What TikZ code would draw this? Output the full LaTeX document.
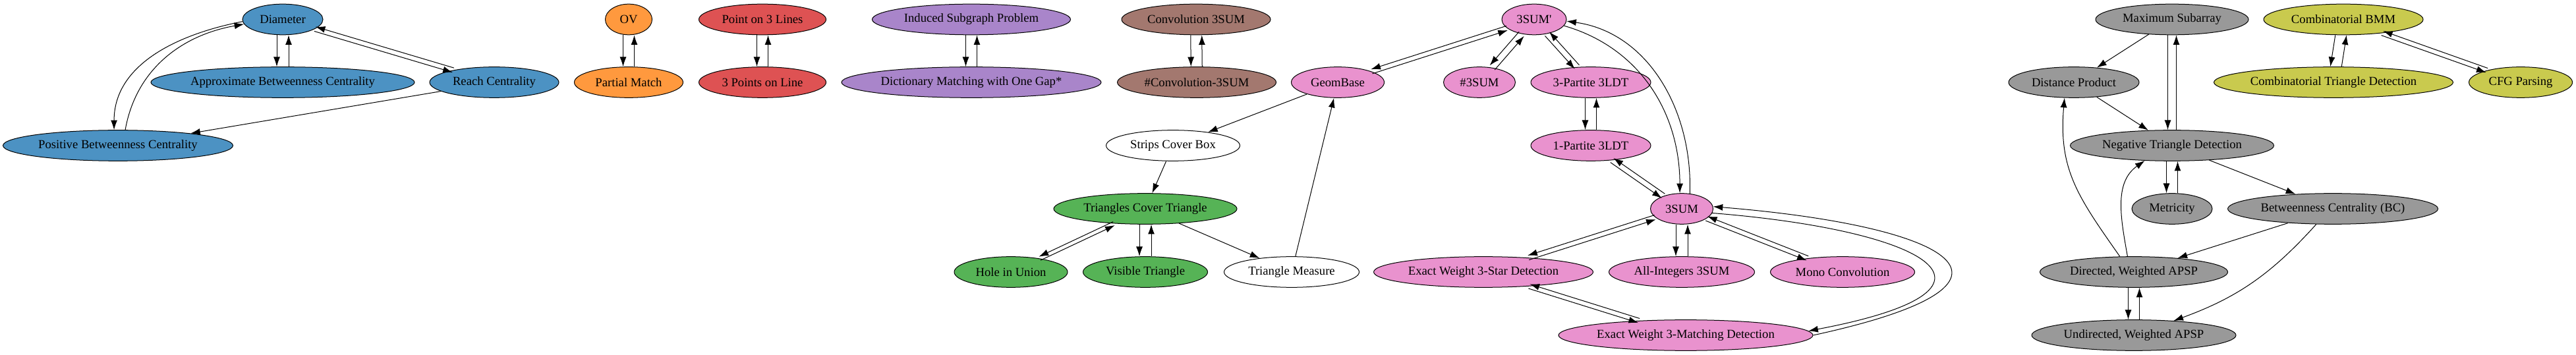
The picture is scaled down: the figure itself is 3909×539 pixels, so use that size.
\documentclass[tikz,border=0pt]{standalone}
\usepackage{fontspec}
\setmainfont{Liberation Serif}
\usetikzlibrary{shapes.geometric,arrows.meta}
\definecolor{tabblue}{RGB}{76,146,195}
\definecolor{taborange}{RGB}{255,153,62}
\definecolor{tabred}{RGB}{222,82,83}
\definecolor{tabpurple}{RGB}{169,133,202}
\definecolor{tabbrown}{RGB}{163,120,111}
\definecolor{tabpink}{RGB}{233,146,206}
\definecolor{tabgreen}{RGB}{86,179,86}
\definecolor{tabgray}{RGB}{153,153,153}
\definecolor{tabolive}{RGB}{201,202,78}
\begin{document}
\begin{tikzpicture}[
  x=0.75pt, y=0.75pt,
  every node/.style={
    draw,
    ellipse,
    inner sep=0pt,
    minimum height=35pt,
    line width=0.75pt,
    font=\fontsize{14}{16}\selectfont,
  },
  every path/.style={line width=0.75pt,>={Latex[length=11pt,width=7.5pt]}},
  twin/.style={transform canvas={shift={#1}}},
  diam fam/.style={fill=tabblue},
  ov fam/.style={fill=taborange},
  line fam/.style={fill=tabred},
  dict fam/.style={fill=tabpurple},
  conv fam/.style={fill=tabbrown},
  sum fam/.style={fill=tabpink},
  geom fam/.style={fill=tabgreen},
  open fam/.style={fill=white},
  apsp fam/.style={fill=tabgray},
  bmm fam/.style={fill=tabolive},
  ]
  \useasboundingbox (0,0) rectangle (3909,539);

  \node[diam fam, minimum width=91.5pt] (dia) at (429,509.5) {Diameter};
  \node[diam fam, minimum width=300pt] (abc) at (429,414) {Approximate Betweenness Centrality};
  \node[diam fam, minimum width=147pt] (reach) at (750,414) {Reach Centrality};
  \node[diam fam, minimum width=261.75pt] (pbc) at (179,318) {Positive Betweenness Centrality};

  \node[ov fam, minimum width=53.25pt] (ov) at (954,509.5) {OV};
  \node[ov fam, minimum width=123.75pt] (pm) at (954,414) {Partial Match};
  \node[line fam, minimum width=144.75pt] (p3l) at (1157,509.5) {Point on 3 Lines};
  \node[line fam, minimum width=144.75pt] (p3o) at (1157,414) {3 Points on Line};
  \node[dict fam, minimum width=225.75pt] (isp) at (1474,509.5) {Induced Subgraph Problem};
  \node[dict fam, minimum width=295.5pt] (dmg) at (1474,414) {Dictionary Matching with One Gap*};
  \node[conv fam, minimum width=169.5pt] (conv) at (1815,509.5) {Convolution 3SUM};
  \node[conv fam, minimum width=180.75pt] (nconv) at (1816,414) {\#Convolution-3SUM};

  \node[sum fam, minimum width=73.5pt] (tsp) at (2328,509.5) {3SUM\textquotesingle};
  \node[sum fam, minimum width=105.75pt] (geo) at (2030,414) {GeomBase};
  \node[sum fam, minimum width=81.75pt] (nsum) at (2245,414) {\#3SUM};
  \node[sum fam, minimum width=136.5pt] (tpl) at (2414,414) {3-Partite 3LDT};
  \node[sum fam, minimum width=136.5pt] (opl) at (2414,318) {1-Partite 3LDT};
  \node[sum fam, minimum width=71.25pt] (tsum) at (2552,222) {3SUM};
  \node[sum fam, minimum width=249.75pt] (star) at (2251,126) {Exact Weight 3-Star Detection};
  \node[sum fam, minimum width=165.75pt] (aint) at (2552,126) {All-Integers 3SUM};
  \node[sum fam, minimum width=164.25pt] (mono) at (2796,126) {Mono Convolution};
  \node[sum fam, minimum width=289.5pt] (match) at (2558,30) {Exact Weight 3-Matching Detection};

  \node[open fam, minimum width=152.25pt] (scb) at (1780,318) {Strips Cover Box};
  \node[open fam, minimum width=153.75pt] (tme) at (1960,126) {Triangle Measure};
  \node[geom fam, minimum width=208.5pt] (tct) at (1738,222) {Triangles Cover Triangle};
  \node[geom fam, minimum width=129pt] (hiu) at (1534,126) {Hole in Union};
  \node[geom fam, minimum width=141.75pt] (vis) at (1738,126) {Visible Triangle};

  \node[apsp fam, minimum width=174pt] (msa) at (3296,509.5) {Maximum Subarray};
  \node[apsp fam, minimum width=148.5pt] (dp) at (3147,414) {Distance Product};
  \node[apsp fam, minimum width=231.75pt] (ntd) at (3296,318) {Negative Triangle Detection};
  \node[apsp fam, minimum width=91.5pt] (met) at (3296,222) {Metricity};
  \node[apsp fam, minimum width=239.25pt] (bc) at (3540,222) {Betweenness Centrality (BC)};
  \node[apsp fam, minimum width=213.75pt] (dir) at (3238,126) {Directed, Weighted APSP};
  \node[apsp fam, minimum width=232.5pt] (und) at (3238,30) {Undirected, Weighted APSP};

  \node[bmm fam, minimum width=181.5pt] (bmm) at (3556,509.5) {Combinatorial BMM};
  \node[bmm fam, minimum width=272.25pt] (ctd) at (3541,414) {Combinatorial Triangle Detection};
  \node[bmm fam, minimum width=117.75pt] (cfg) at (3825,414) {CFG Parsing};

  \draw[->, twin={(-9,0)}] (dia) -- (abc);
  \draw[->, twin={(9,0)}] (abc) -- (dia);
  \draw[->, twin={(-1,-3.4)}] (dia) -- (reach);
  \draw[->, twin={(1,3.4)}] (reach) -- (dia);
  \draw[->] (dia.183) to[out=191, in=90] (pbc.104);
  \draw[->] (pbc.65) to[out=80, in=190] (dia.187);
  \draw[->] (reach) -- (pbc);

  \draw[->, twin={(-8.5,0)}] (ov) -- (pm);
  \draw[->, twin={(8.5,0)}] (pm) -- (ov);
  \draw[->, twin={(-8.5,0)}] (p3l) -- (p3o);
  \draw[->, twin={(8.5,0)}] (p3o) -- (p3l);
  \draw[->, twin={(-8.5,0)}] (isp) -- (dmg);
  \draw[->, twin={(8.5,0)}] (dmg) -- (isp);
  \draw[->, twin={(-8.5,0)}] (conv) -- (nconv);
  \draw[->, twin={(8.5,0)}] (nconv) -- (conv);

  \draw[->, twin={(-1.1,3.3)}] (tsp) -- (geo);
  \draw[->, twin={(1.1,-3.3)}] (geo) -- (tsp);
  \draw[->, twin={(-3.8,3.3)}] (tsp) -- (nsum);
  \draw[->, twin={(3.8,-3.3)}] (nsum) -- (tsp);
  \draw[->, twin={(-3.3,-3)}] (tsp) -- (tpl);
  \draw[->, twin={(3.3,3)}] (tpl) -- (tsp);
  \draw[->, twin={(-8.5,0)}] (tpl) -- (opl);
  \draw[->, twin={(8.5,0)}] (opl) -- (tpl);
  \draw[->, twin={(-2.3,-3.3)}] (opl) -- (tsum);
  \draw[->, twin={(2.3,3.3)}] (tsum) -- (opl);
  \draw[->] (tsp.-12) to[out=-16, in=90] (tsum.97);
  \draw[->] (tsum.62) to[out=88, in=-8] (tsp.-3);

  \draw[->] (geo) -- (scb);
  \draw[->] (scb) -- (tct);
  \draw[->] (tme) -- (geo);
  \draw[->, twin={(-1.3,2.7)}] (tct) -- (hiu);
  \draw[->, twin={(1.3,-2.7)}] (hiu) -- (tct);
  \draw[->, twin={(-9,0)}] (tct) -- (vis);
  \draw[->, twin={(9,0)}] (vis) -- (tct);
  \draw[->] (tct) -- (tme);

  \draw[->, twin={(-1.1,3.3)}] (tsum) -- (star);
  \draw[->, twin={(1.1,-3.3)}] (star) -- (tsum);
  \draw[->, twin={(-9,0)}] (tsum) -- (aint);
  \draw[->, twin={(9,0)}] (aint) -- (tsum);
  \draw[->, twin={(-1.3,-3.3)}] (tsum) -- (mono);
  \draw[->, twin={(1.3,3.3)}] (mono) -- (tsum);
  \draw[->, twin={(-1,-3.3)}] (star) -- (match);
  \draw[->, twin={(1,3.3)}] (match) -- (star);
  \draw[->] (tsum.-8) .. controls (2929,189) and (3079,100) .. (match.2);
  \draw[->] (match.0) .. controls (3120,110) and (2960,196) .. (tsum.4);

  \draw[->] (msa) -- (dp);
  \draw[->, twin={(-6.5,0)}] (msa) -- (ntd);
  \draw[->, twin={(6.5,0)}] (ntd) -- (msa);
  \draw[->] (dp) -- (ntd);
  \draw[->, twin={(-8.5,0)}] (ntd) -- (met);
  \draw[->, twin={(8.5,0)}] (met) -- (ntd);
  \draw[->] (ntd) -- (bc);
  \draw[->] (bc) -- (dir);
  \draw[->] (bc.223) to[out=228, in=20] (und.20);
  \draw[->] (dir.132) to[out=125, in=265, looseness=1.1] (dp.239);
  \draw[->] (dir.112) to[out=100, in=215] (ntd.209);
  \draw[->, twin={(-8.5,0)}] (dir) -- (und);
  \draw[->, twin={(8.5,0)}] (und) -- (dir);

  \draw[->, twin={(-8.5,0)}] (bmm) -- (ctd);
  \draw[->, twin={(8.5,0)}] (ctd) -- (bmm);
  \draw[->, twin={(-1.2,-3.3)}] (bmm) -- (cfg);
  \draw[->, twin={(1.2,3.3)}] (cfg) -- (bmm);
\end{tikzpicture}
\end{document}
